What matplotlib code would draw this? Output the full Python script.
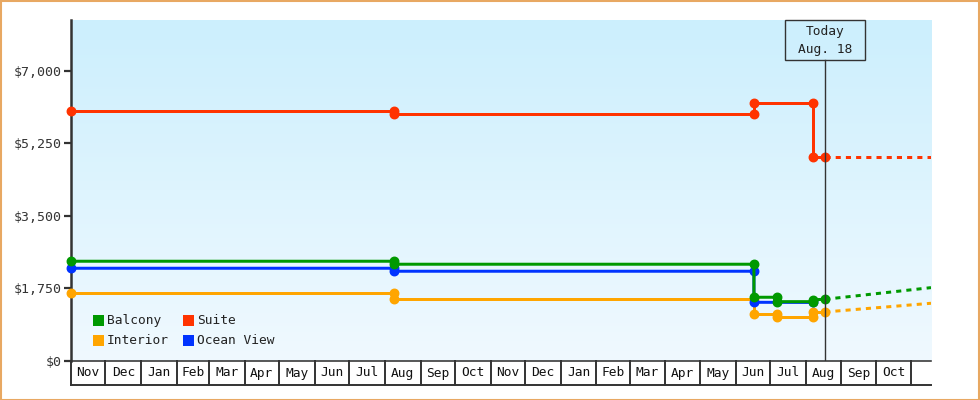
import matplotlib
matplotlib.use('Agg')
import matplotlib.pyplot as plt
import matplotlib.dates as mdates
import numpy as np
import pandas as pd
from matplotlib.patches import Rectangle
from matplotlib.transforms import blended_transform_factory

plt.rcParams['font.family'] = ['DejaVu Sans Mono', 'DejaVu Sans']

# ---------------- data ----------------
balcony_dates = ['2022-11-01', '2023-08-09', '2023-08-09', '2024-06-17', '2024-06-17',
                 '2024-07-07', '2024-07-07', '2024-08-07', '2024-08-07', '2024-08-18']
balcony_values = [2404, 2404, 2332, 2332, 1536, 1536, 1430, 1430, 1475, 1488]

suite_dates = ['2022-11-01', '2023-08-09', '2023-08-09', '2024-06-17', '2024-06-17',
               '2024-08-07', '2024-08-07', '2024-08-18']
suite_values = [6021, 6021, 5949, 5949, 6214, 6214, 4912, 4912]

interior_dates = ['2022-11-01', '2023-08-09', '2023-08-09', '2024-06-17', '2024-06-17',
                  '2024-07-07', '2024-07-07', '2024-08-07', '2024-08-07', '2024-08-18']
interior_values = [1633, 1633, 1488, 1488, 1133, 1133, 1068, 1068, 1182, 1182]

ocean_dates = ['2022-11-01', '2023-08-09', '2023-08-09', '2024-06-17', '2024-06-17', '2024-08-07']
ocean_values = [2235, 2235, 2163, 2163, 1415, 1411]

proj_dates = ['2024-08-18', '2024-11-18']
balcony_proj = [1488, 1768]
suite_proj = [4912, 4912]
interior_proj = [1182, 1391]

month_labels = ['Nov', 'Dec', 'Jan', 'Feb', 'Mar', 'Apr', 'May', 'Jun', 'Jul', 'Aug', 'Sep', 'Oct',
                'Nov', 'Dec', 'Jan', 'Feb', 'Mar', 'Apr', 'May', 'Jun', 'Jul', 'Aug', 'Sep', 'Oct']
start_date = '2022-11-01'
end_date = '2024-11-18'
today_date = '2024-08-18'
today_label = 'Today\nAug. 18'

y_ticks = [0, 1750, 3500, 5250, 7000]
y_max = 8210

series = [
    ('Interior', interior_dates, interior_values, '#FFA500'),
    ('Ocean View', ocean_dates, ocean_values, '#0033FF'),
    ('Balcony', balcony_dates, balcony_values, '#009900'),
    ('Suite', suite_dates, suite_values, '#FF3300'),
]
projections = [
    (interior_proj, '#FFA500'),
    (balcony_proj, '#009900'),
    (suite_proj, '#FF3300'),
]
legend_items = [('Balcony', '#009900'), ('Suite', '#FF3300'),
                ('Interior', '#FFA500'), ('Ocean View', '#0033FF')]

# ---------------- figure ----------------
W, H = 980, 400
fig = plt.figure(figsize=(W / 100, H / 100), dpi=100)
fig.patch.set_facecolor('white')


def fx(px):
    return px / W


def fy(py):
    return 1 - py / H


ax_left, ax_right, ax_top, ax_bottom = 71, 931, 20.3, 361
ax = fig.add_axes([fx(ax_left), fy(ax_bottom), fx(ax_right - ax_left), (ax_bottom - ax_top) / H])

x0 = mdates.date2num(pd.Timestamp(start_date))
x1 = mdates.date2num(pd.Timestamp(end_date))
ax.set_xlim(x0, x1)
ax.set_ylim(0, y_max)

# gradient background
top_c = np.array([204, 239, 253]) / 255
bot_c = np.array([240, 249, 255]) / 255
t = np.linspace(0, 1, 256)[:, None]
grad = (top_c[None, :] * (1 - t) + bot_c[None, :] * t)[:, None, :]
ax.imshow(grad, extent=[0, 1, 0, 1], transform=ax.transAxes, aspect='auto', zorder=0)
ax.set_facecolor('none')

line_px = 3.0
lw = line_px * 72 / 100
ms = 8.5 * 72 / 100
for name, d, v, c in series:
    xd = mdates.date2num(pd.to_datetime(d))
    ax.plot(xd, v, color=c, lw=lw, marker='o', ms=ms, mec=c, mfc=c,
            solid_capstyle='butt', zorder=3, clip_on=False)

xp = mdates.date2num(pd.to_datetime(proj_dates))
for v, c in projections:
    ax.plot(xp, v, color=c, lw=lw, linestyle=(0, (1.7, 1.7)), dash_capstyle='butt', zorder=3)

# axes styling
dark = '#333333'
for s in ['top', 'right']:
    ax.spines[s].set_visible(False)
ax.spines['left'].set_color(dark)
ax.spines['left'].set_linewidth(2.5 * 72 / 100)
ax.spines['bottom'].set_color(dark)
ax.spines['bottom'].set_linewidth(1.6 * 72 / 100)
ax.set_yticks(y_ticks)
ax.set_yticklabels(['${:,}'.format(v) for v in y_ticks])
ax.tick_params(axis='y', length=5, width=1.6, color=dark, labelcolor='#333333',
               labelsize=9.5, pad=2)
ax.set_xticks([])

# month boxes
months = pd.date_range(start_date, periods=len(month_labels) + 1, freq='MS')
mx = mdates.date2num(months)
bt = blended_transform_factory(ax.transData, ax.transAxes)
box_h = 24 / (ax_bottom - ax_top)
for b in mx:
    ax.plot([b, b], [0, -box_h], color=dark, lw=1.4, transform=bt, clip_on=False, zorder=5)
ax.plot([x0, x1], [-box_h, -box_h], color=dark, lw=1.4, transform=bt, clip_on=False, zorder=5)
for i, lab in enumerate(month_labels):
    cx = (mx[i] + mx[i + 1]) / 2
    ax.text(cx, -box_h / 2, lab, transform=bt, ha='center', va='center',
            fontsize=9.3, color='#111111', clip_on=False)

# today marker
tx = mdates.date2num(pd.Timestamp(today_date))
box_top_frac = 1.0
box_bot_frac = 1 - 40 / (ax_bottom - ax_top)
ax.plot([tx, tx], [0, box_bot_frac], color=dark, lw=1.0, transform=bt, zorder=4)
tx_px = ax.transData.transform((tx, 0))[0]
fig.patches.append(Rectangle((fx(tx_px - 40), fy(60.3)), fx(80), 40 / H, transform=fig.transFigure,
                             fill=False, edgecolor=dark, lw=1.0, zorder=6))
tl = today_label.split('\n')
fig.text(fx(tx_px), fy(32), tl[0], ha='center', va='center', fontsize=9.3, color='#222222')
fig.text(fx(tx_px), fy(50), tl[1], ha='center', va='center', fontsize=9.3, color='#222222')

# legend
leg_pos = [(93, 315), (183.3, 315), (93, 335.3), (183.3, 335.3)]
for (lab, c), (px, py) in zip(legend_items, leg_pos):
    fig.patches.append(Rectangle((fx(px), fy(py + 10.7)), fx(10.7), 10.7 / H,
                                 transform=fig.transFigure, facecolor=c, edgecolor='none', zorder=6))
    fig.text(fx(px + 13.5), fy(py + 5.5), lab, ha='left', va='center', fontsize=9.3, color='#222222')

# border
fig.patches.append(Rectangle((0.5 / W, 0.5 / H), 1 - 1.5 / W, 1 - 1.5 / H, transform=fig.transFigure,
                             fill=False, edgecolor='#E8A862', lw=1.5, zorder=10))

fig.savefig('out.png', dpi=100)
